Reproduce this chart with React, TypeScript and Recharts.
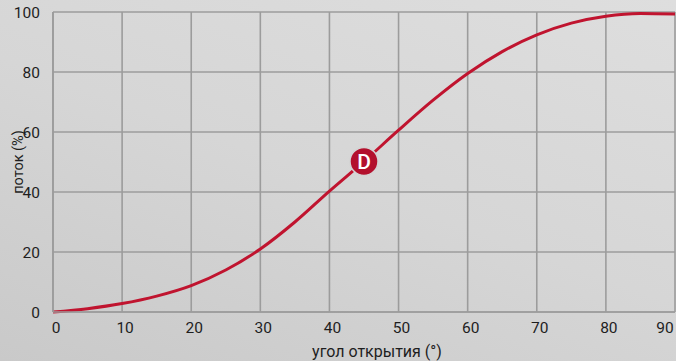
import React from 'react';
import {
  LineChart, Line, XAxis, YAxis, CartesianGrid, ReferenceDot, Label,
} from 'recharts';

// valve opening angle (deg) vs flow (%)
const angles = [0, 5, 10, 15, 20, 25, 30, 35, 40, 45, 50, 55, 60, 65, 70, 75, 80, 85, 90];
const flow = [0, 1.1, 2.8, 5.3, 8.8, 14, 21, 30, 40.3, 50.2, 60.6, 70.6, 79.5, 86.8, 92.4, 96.3, 98.6, 99.5, 99.3];

const xTicks = [0, 10, 20, 30, 40, 50, 60, 70, 80, 90];
const yTicks = [0, 20, 40, 60, 80, 100];

const markerAngle = 45;
const markerFlow = 50.2;
const markerLabel = 'D';

const xTitle = 'угол открытия (°)';
const yTitle = 'поток (%)';

const data = angles.map((a, i) => ({ angle: a, flow: flow[i] }));

const FONT = 'Roboto, "Noto Sans", sans-serif';
const GRID = '#9c9c9c';
const RED = '#c0142f';

const XTick = (props: any) => {
  const { x, y, payload } = props;
  const last = payload.value === xTicks[xTicks.length - 1];
  return (
    <text x={last ? x - 10 : x + 3} y={y + 13} textAnchor="middle" fontSize={15.5} fontFamily={FONT} fill="#1e1e1e">
      {payload.value}
    </text>
  );
};

const YTick = (props: any) => {
  const { x, y, payload } = props;
  return (
    <text x={x - 5} y={y} dy={5.5} textAnchor="end" fontSize={15.5} fontFamily={FONT} fill="#1e1e1e">
      {payload.value}
    </text>
  );
};

const Marker = (props: any) => {
  const { cx, cy } = props;
  return (
    <g>
      <circle cx={cx} cy={cy} r={14} fill="#b3102d" stroke="#d4d4d4" strokeWidth={1.5} />
      <text x={cx} y={cy} dy={7.5} textAnchor="middle" fontSize={21} fontWeight={500} fontFamily={FONT} fill="#ffffff">
        {markerLabel}
      </text>
    </g>
  );
};

export default function App() {
  return (
    <div
      style={{
        position: 'fixed', left: 0, top: 0, width: 676, height: 361,
        background: 'linear-gradient(20deg, #c9c9c9 0%, #d6d6d6 50%, #dedede 100%)',
      }}
    >
      <LineChart width={676} height={361} data={data} margin={{ top: 12, right: 1, left: 0, bottom: 0 }}>
        <CartesianGrid stroke={GRID} strokeWidth={1.6} />
        <XAxis
          dataKey="angle" type="number" domain={[0, 90]} ticks={xTicks} interval={0}
          height={49} tickLine={false} axisLine={{ stroke: GRID, strokeWidth: 1.6 }} tick={<XTick />}
        >
          <Label value={xTitle} position="insideBottom" offset={4} dx={13}
            style={{ fontSize: 16, fontFamily: FONT, fill: '#1e1e1e' }} />
        </XAxis>
        <YAxis
          type="number" domain={[0, 100]} ticks={yTicks} interval={0} width={53}
          tickLine={false} axisLine={{ stroke: GRID, strokeWidth: 1.6 }} tick={<YTick />}
        >
          <Label value={yTitle} angle={-90} position="insideLeft" offset={18}
            style={{ fontSize: 14.5, fontFamily: FONT, fill: '#1e1e1e', textAnchor: 'middle' }} />
        </YAxis>
        <Line
          type="monotone" dataKey="flow" stroke={RED} strokeWidth={3}
          dot={false} activeDot={false} isAnimationActive={false}
        />
        <ReferenceDot x={markerAngle} y={markerFlow} r={14} shape={<Marker />} ifOverflow="visible" />
      </LineChart>
    </div>
  );
}
